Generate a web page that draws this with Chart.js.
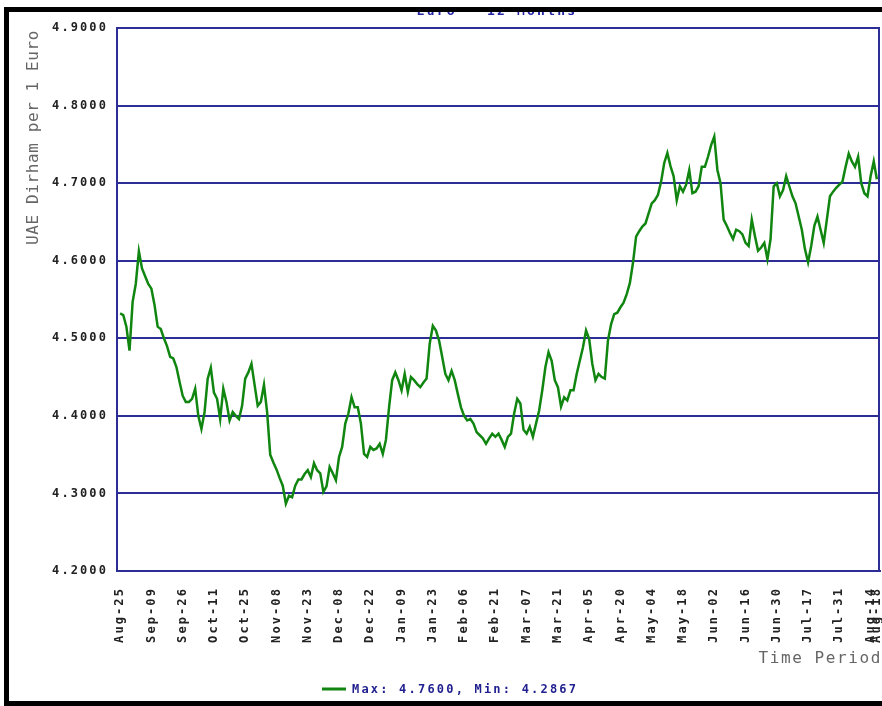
<!DOCTYPE html>
<html lang="en">
<head>
  <meta charset="UTF-8">
  <title>UAE Dirham per 1 Euro</title>
  <style>
    body { margin: 0; background: #fff; }
    canvas { display: block; }
  </style>
</head>
<body>
  <canvas id="rateChart" width="882" height="706"></canvas>

<script src="https://cdn.jsdelivr.net/npm/chart.js"></script>
<script>
  // daily rates (one value per trading day)
  const rates = [
    4.532, 4.530, 4.515, 4.484, 4.547, 4.570, 4.612, 4.590, 4.580, 4.570,
    4.564, 4.543, 4.515, 4.512, 4.500, 4.490, 4.476, 4.474, 4.463, 4.444,
    4.426, 4.418, 4.418, 4.422, 4.435, 4.400, 4.383, 4.405, 4.448, 4.462,
    4.430, 4.422, 4.396, 4.435, 4.418, 4.394, 4.405, 4.400, 4.396, 4.413,
    4.448, 4.456, 4.467, 4.440, 4.413, 4.418, 4.440, 4.405, 4.350, 4.340,
    4.331, 4.320, 4.310, 4.2867, 4.297, 4.295, 4.310, 4.318, 4.318, 4.325,
    4.330, 4.321, 4.339, 4.330, 4.326, 4.302, 4.309, 4.334, 4.326, 4.317,
    4.347, 4.360, 4.390, 4.403, 4.424, 4.411, 4.411, 4.390, 4.351, 4.347,
    4.360, 4.356, 4.358, 4.364, 4.351, 4.369, 4.411, 4.446, 4.456, 4.446,
    4.433, 4.454, 4.431, 4.450, 4.446, 4.441, 4.437, 4.443, 4.448, 4.493,
    4.516, 4.510, 4.497, 4.476, 4.454, 4.446, 4.458, 4.446, 4.428, 4.411,
    4.400, 4.394, 4.396, 4.390, 4.379, 4.375, 4.371, 4.364, 4.371, 4.377,
    4.373, 4.377, 4.369, 4.360, 4.373, 4.377, 4.403, 4.422, 4.416, 4.382,
    4.377, 4.386, 4.373, 4.390, 4.407, 4.433, 4.463, 4.482, 4.471, 4.446,
    4.437, 4.412, 4.424, 4.420, 4.433, 4.433, 4.454, 4.471, 4.488, 4.510,
    4.499, 4.467, 4.446, 4.454, 4.450, 4.448, 4.497, 4.518, 4.531, 4.533,
    4.540, 4.546, 4.557, 4.571, 4.597, 4.631, 4.638, 4.644, 4.648, 4.661,
    4.674, 4.678, 4.685, 4.702, 4.726, 4.739, 4.722, 4.709, 4.678, 4.696,
    4.689, 4.698, 4.717, 4.687, 4.689, 4.696, 4.721, 4.721, 4.734, 4.749,
    4.760, 4.717, 4.700, 4.653, 4.645, 4.636, 4.628, 4.640, 4.638, 4.634,
    4.623, 4.619, 4.653, 4.632, 4.613, 4.617, 4.623, 4.602, 4.628, 4.696,
    4.700, 4.683, 4.691, 4.709, 4.696, 4.683, 4.674, 4.657, 4.640, 4.615,
    4.598, 4.619, 4.645, 4.657, 4.640, 4.623, 4.653, 4.683, 4.689, 4.694,
    4.698, 4.702, 4.721, 4.738, 4.728, 4.721, 4.734, 4.700, 4.687, 4.683,
    4.709, 4.728, 4.705
  ];

  // x tick positions (day index) and their labels
  const xTickIdx = [0, 10, 20, 30, 40, 50, 60, 70, 80, 90, 100, 110, 120,
    130, 140, 150, 160, 170, 180, 190, 200, 210, 220, 230, 240, 242];
  const xTickLabels = ['Aug-25', 'Sep-09', 'Sep-26', 'Oct-11', 'Oct-25', 'Nov-08',
    'Nov-23', 'Dec-08', 'Dec-22', 'Jan-09', 'Jan-23', 'Feb-06', 'Feb-21', 'Mar-07',
    'Mar-21', 'Apr-05', 'Apr-20', 'May-04', 'May-18', 'Jun-02', 'Jun-16', 'Jun-30',
    'Jul-17', 'Jul-31', 'Aug-14', 'Aug-18'];
  const yTicks = [4.2, 4.3, 4.4, 4.5, 4.6, 4.7, 4.8, 4.9];

  const navy = '#2d2d98';
  const green = '#108510';
  const mono = '"DejaVu Sans Mono", monospace';

  const seriesLabel = 'Max: ' + Math.max(...rates).toFixed(4) +
    ', Min: ' + Math.min(...rates).toFixed(4);

  const frame = {
    id: 'frame',
    beforeDraw(chart) {
      const c = chart.ctx;
      c.save();
      c.fillStyle = '#fff';
      c.fillRect(0, 0, chart.width, chart.height);
      c.restore();
      c.letterSpacing = '2.1px';
    },
    afterDraw(chart) {
      const c = chart.ctx;
      const a = chart.chartArea;
      c.save();

      // right edge of the plot box
      c.strokeStyle = navy;
      c.lineWidth = 2;
      c.beginPath();
      c.moveTo(a.right - 1, a.top);
      c.lineTo(a.right - 1, a.bottom + 1);
      c.stroke();

      // y axis title
      c.save();
      c.letterSpacing = '0.6px';
      c.font = '16px ' + mono;
      c.fillStyle = '#666';
      c.translate(34, 30);
      c.rotate(-Math.PI / 2);
      c.textAlign = 'right';
      c.textBaseline = 'middle';
      c.fillText('UAE Dirham per 1 Euro', 0, 0);
      c.restore();

      // x axis title
      c.letterSpacing = '1.6px';
      c.font = '16px ' + mono;
      c.fillStyle = '#666';
      c.textAlign = 'right';
      c.textBaseline = 'middle';
      c.fillText('Time Period', 882, 659);

      // legend
      const ds = chart.data.datasets[0];
      c.strokeStyle = ds.borderColor;
      c.lineWidth = 3;
      c.beginPath();
      c.moveTo(322, 689);
      c.lineTo(346, 689);
      c.stroke();
      c.letterSpacing = '2.2px';
      c.font = 'bold 12px ' + mono;
      c.fillStyle = '#1f1f8f';
      c.textAlign = 'left';
      c.fillText(ds.label, 352, 690);

      // title, mostly hidden under the frame
      c.save();
      c.beginPath();
      c.rect(0, 12, 882, 4);
      c.clip();
      c.font = 'bold 13px ' + mono;
      c.fillStyle = '#2323a8';
      c.textAlign = 'center';
      c.textBaseline = 'alphabetic';
      c.fillText('Euro - 12 Months', 497, 15);
      c.restore();

      // black frame
      c.fillStyle = '#000';
      c.fillRect(4, 7, 878, 5);
      c.fillRect(4, 7, 5, 699);
      c.fillRect(4, 701, 878, 5);

      c.restore();
    }
  };

  document.addEventListener('DOMContentLoaded', () => {
    const ctx = document.getElementById('rateChart').getContext('2d');

    new Chart(ctx, {
      type: 'line',
      data: {
        datasets: [{
          label: seriesLabel,
          data: rates.map((v, i) => ({ x: i, y: v })),
          borderColor: green,
          borderWidth: 2.5,
          pointRadius: 0,
          tension: 0,
          fill: false
        }]
      },
      options: {
        responsive: false,
        animation: false,
        layout: { padding: { top: 28, right: 2, left: 0, bottom: 0 } },
        plugins: {
          legend: { display: false },
          title: { display: false },
          tooltip: { enabled: false }
        },
        scales: {
          x: {
            type: 'linear',
            min: -1,
            max: 243,
            afterBuildTicks: (scale) => {
              scale.ticks = xTickIdx.map(v => ({ value: v }));
            },
            afterFit: (scale) => {
              scale.height = 135;
              scale.paddingLeft = 0;
              scale.paddingRight = 0;
            },
            grid: { display: false },
            border: { display: true, color: navy, width: 2 },
            ticks: {
              autoSkip: false,
              minRotation: 90,
              maxRotation: 90,
              padding: 8,
              color: '#222',
              font: { family: mono, size: 12, weight: 'bold' },
              callback: (v, i) => xTickLabels[i]
            }
          },
          y: {
            min: 4.2,
            max: 4.9,
            afterBuildTicks: (scale) => {
              scale.ticks = yTicks.map(v => ({ value: v }));
            },
            afterFit: (scale) => {
              scale.width = 117;
              scale.paddingTop = 0;
              scale.paddingBottom = 0;
            },
            grid: { color: navy, lineWidth: 2, drawTicks: false },
            border: { color: navy, width: 2 },
            ticks: {
              padding: 9,
              color: '#222',
              font: { family: mono, size: 12, weight: 'bold' },
              callback: (v) => v.toFixed(4)
            }
          }
        }
      },
      plugins: [frame]
    });
  });
</script>
</body>
</html>
